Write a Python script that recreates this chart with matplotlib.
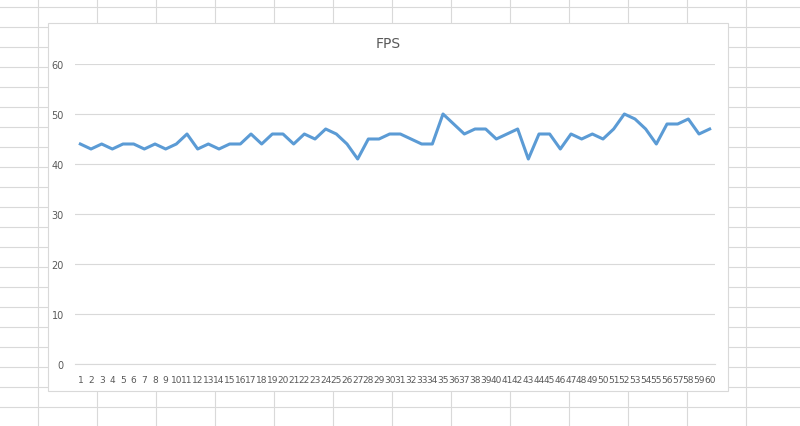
import matplotlib
matplotlib.use("Agg")
import matplotlib.pyplot as plt
from matplotlib.lines import Line2D
from matplotlib.patches import Rectangle

x_labels = [str(i) for i in range(1, 61)]
fps = [44,43,44,43,44,44,43,44,43,44,46,43,44,43,44,44,46,44,46,46,
       44,46,45,47,46,44,41,45,45,46,46,45,44,44,50,48,46,47,47,45,
       46,47,41,46,46,43,46,45,46,45,47,50,49,47,44,48,48,49,46,47]
y_ticks = [0, 10, 20, 30, 40, 50, 60]

W, H = 800, 427
fig = plt.figure(figsize=(W/100, H/100), dpi=100)
fig.patch.set_facecolor("white")
# spreadsheet grid background
for xv in range(38, 800, 59):
    fig.add_artist(Line2D([xv/W, xv/W], [0, 1], color="#d9d9d9", lw=0.8, zorder=-3))
for yv in range(8, 427, 20):
    fig.add_artist(Line2D([0, 1], [1-yv/H, 1-yv/H], color="#d9d9d9", lw=0.8, zorder=-3))
fig.add_artist(Rectangle((48/W, 1-392/H), 680/W, 368/H, facecolor="white",
                         edgecolor="#d9d9d9", lw=0.8, zorder=-2))

ax = fig.add_axes([75/W, 1-365/H, 640/W, 300/H])
ax.patch.set_visible(False)
xs = list(range(len(fps)))
ax.plot(xs, fps, color="#5b9bd5", lw=2.2)
ax.set_ylim(0, 60)
ax.set_xlim(-0.5, len(fps)-0.5)
ax.set_yticks(y_ticks)
ax.set_yticklabels([str(v) for v in y_ticks], fontsize=7, color="#595959")
ax.set_xticks(xs)
ax.set_xticklabels(x_labels, fontsize=6.5, color="#595959")
ax.tick_params(length=0, pad=8)
ax.grid(axis="y", color="#d9d9d9", lw=0.8)
ax.set_axisbelow(True)
for s in ax.spines.values():
    s.set_visible(False)
ax.spines["bottom"].set_visible(True)
ax.spines["bottom"].set_color("#d9d9d9")
fig.text(388/W, 1-44/H, "FPS", ha="center", va="center", fontsize=10, color="#595959")
fig.savefig("out.png", dpi=100)
